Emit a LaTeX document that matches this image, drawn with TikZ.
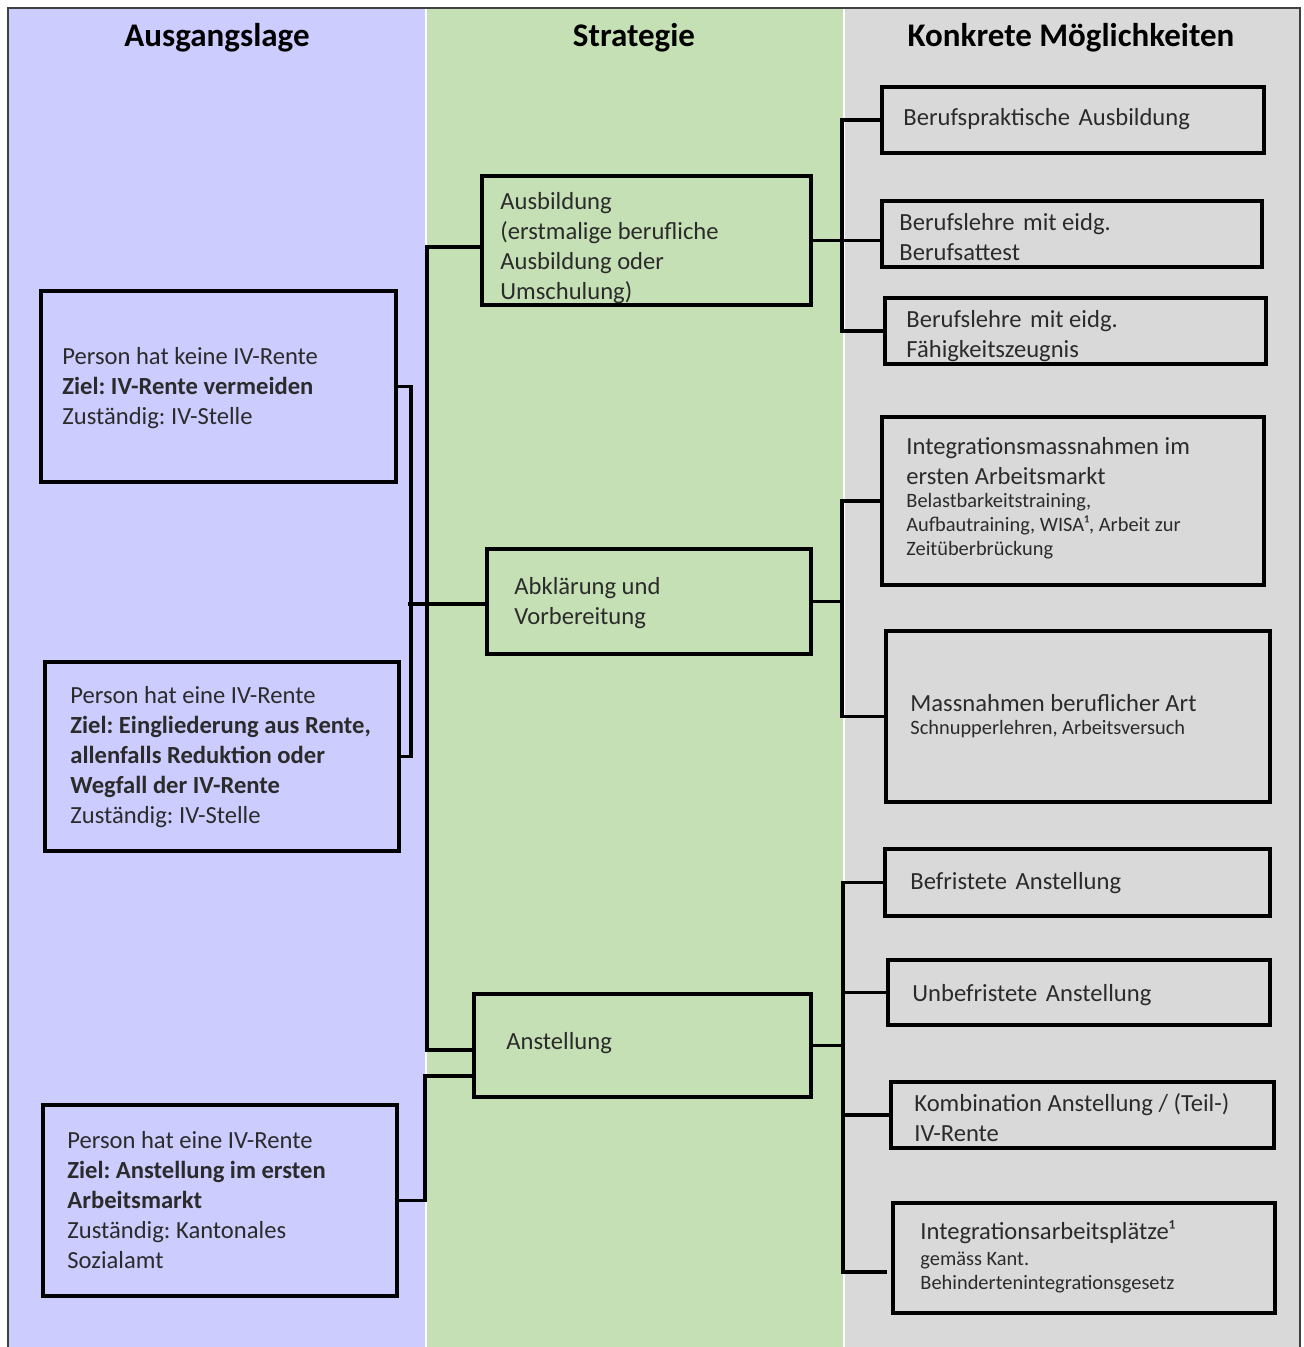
\documentclass[tikz,border=0pt]{standalone}
\usepackage{fontspec}
\setmainfont{Carlito}
\usetikzlibrary{calc}
\definecolor{cblue}{HTML}{CCCCFF}
\definecolor{cgreen}{HTML}{C5E0B4}
\definecolor{cgray}{HTML}{D9D9D9}
\definecolor{txtc}{HTML}{2B2B2B}
\definecolor{framec}{HTML}{404040}
\frenchspacing
\begin{document}
\begin{tikzpicture}[x=0.5pt,y=-0.5pt,
  boxn/.style={draw=black, line width=1.6pt, inner sep=0pt, outer sep=0pt},
  conn/.style={draw=black, line width=1.6pt},
  txt/.style={anchor=west, align=left, inner sep=0pt, text=txtc, font=\fontsize{12.3}{15}\selectfont},
  smalltxt/.style={anchor=west, align=left, inner sep=0pt, text=txtc, font=\fontsize{10.2}{12}\selectfont},
  head/.style={inner sep=0pt, text=black, font=\fontsize{16.5}{20}\selectfont\bfseries}
]
\useasboundingbox (0,0) rectangle (1304,1347);
\fill[white] (0,0) rectangle (1304,1347);
% columns
\fill[cblue] (9,9) rectangle (425,1347);
\fill[cgreen] (427,9) rectangle (843,1347);
\fill[cgray] (845,9) rectangle (1299,1347);
\draw[framec, line width=0.9pt] (8,1347) -- (8,8) -- (1300,8) -- (1300,1347);

% headers
\node[head] (h1) at (217,38) {Ausgangslage};
\node[head] (h2) at (634,38) {Strategie};
\node[head] (h3) at (1071,38) {Konkrete Möglichkeiten};

% left boxes
\node[boxn, minimum width=177.5pt, minimum height=95.5pt] (l1) at (218.5,386.5) {};
\node[boxn, minimum width=177pt, minimum height=94.5pt] (l2) at (222,756.5) {};
\node[boxn, minimum width=177pt, minimum height=95.5pt] (l3) at (220,1200.5) {};
\node[txt] (l1t) at (62,388) {Person hat keine IV-Rente\\\textbf{Ziel: IV-Rente vermeiden}\\Zuständig: IV-Stelle};
\node[txt] (l2t) at (70,757) {Person hat eine IV-Rente\\\textbf{Ziel: Eingliederung aus Rente,}\\\textbf{allenfalls Reduktion oder}\\\textbf{Wegfall der IV-Rente}\\Zuständig: IV-Stelle};
\node[txt] (l3t) at (67,1200) {Person hat eine IV-Rente\\\textbf{Ziel: Anstellung im ersten}\\\textbf{Arbeitsmarkt}\\Zuständig: Kantonales\\Sozialamt};

% middle boxes
\node[boxn, minimum width=164.5pt, minimum height=64.5pt] (m1) at (646.5,240.5) {};
\node[boxn, minimum width=162pt, minimum height=52.5pt] (m2) at (649,601.5) {};
\node[boxn, minimum width=168.5pt, minimum height=51.5pt] (m3) at (642.5,1045.5) {};
\node[txt] (m1t) at (500,248) {Ausbildung\\(erstmalige berufliche\\Ausbildung oder\\Umschulung)};
\node[txt] (m2t) at (514,603) {Abklärung und\\Vorbereitung};
\node[txt] (m3t) at (506,1043) {Anstellung};

% right boxes
\node[boxn, minimum width=191pt, minimum height=33pt] (r1) at (1073,120) {};
\node[boxn, minimum width=190pt, minimum height=33pt] (r2) at (1072,234) {};
\node[boxn, minimum width=190.5pt, minimum height=33pt] (r3) at (1075.5,331) {};
\node[boxn, minimum width=191pt, minimum height=84pt] (r4) at (1073,501) {};
\node[boxn, minimum width=192pt, minimum height=85.5pt] (r5) at (1078,716.5) {};
\node[boxn, minimum width=192.5pt, minimum height=33.5pt] (r6) at (1077.5,882.5) {};
\node[boxn, minimum width=191pt, minimum height=32.5pt] (r7) at (1079,992.5) {};
\node[boxn, minimum width=191.5pt, minimum height=33pt] (r8) at (1082.5,1115) {};
\node[boxn, minimum width=191pt, minimum height=55pt] (r9) at (1084,1258) {};

\node[txt] (r1t) at (903,119) {Berufspraktische\hspace{0.12em} Ausbildung};
\node[txt] (r2t) at (899,237) {Berufslehre\hspace{0.12em} mit eidg.\\Berufsattest};
\node[txt] (r3t) at (906,336) {Berufslehre\hspace{0.12em} mit eidg.\\Fähigkeitszeugnis};
\node[txt] (r4t) at (906,461) {Integrationsmassnahmen im\\ersten Arbeitsmarkt};
\node[smalltxt] (r4s) at (906,526) {Belastbarkeitstraining,\\Aufbautraining, WISA¹, Arbeit zur\\Zeitüberbrückung};
\node[txt] (r5t) at (910,703) {Massnahmen beruflicher Art};
\node[smalltxt] (r5s) at (910,729) {Schnupperlehren, Arbeitsversuch};
\node[txt] (r6t) at (910,883) {Befristete\hspace{0.12em} Anstellung};
\node[txt] (r7t) at (912,995) {Unbefristete\hspace{0.12em} Anstellung};
\node[txt] (r8t) at (914,1118) {Kombination Anstellung / (Teil-)\\IV-Rente};
\node[txt] (r9t) at (920,1232) {Integrationsarbeitsplätze¹};
\node[smalltxt] (r9s) at (920,1272) {gemäss Kant.\\Behindertenintegrationsgesetz};

% left connectors
\draw[conn] (l1.east) -- ++(15,0) |- (l2.east);
\coordinate (lj) at (408,604);
\draw[conn] (lj) -- (lj -| m2.west);
\draw[conn] ($(m1.west)+(0,6.5)$) -| (427,1050) -- (m3.west |- 0,1050);
\draw[conn] (l3.east) -| (425,1076) -- (m3.west |- 0,1076);

% right connectors (Ausbildung)
\coordinate (j1) at (842,240.5);
\draw[conn] (m1.east) -- (j1);
\draw[conn] (r1.west) -| (j1) |- (r3.west);
\draw[conn] (j1) -- (j1 -| r2.west);

% right connectors (Abklaerung)
\coordinate (j2) at (842,601.5);
\draw[conn] (m2.east) -- (j2);
\draw[conn] (r4.west) -| (j2) |- (r5.west);

% right connectors (Anstellung)
\coordinate (j3) at (843,1045.5);
\coordinate (r9end) at (887,1272);
\draw[conn] (m3.east) -- (j3);
\draw[conn] (r6.west) -| (843,1272) -- (r9end);
\draw[conn] (j3 |- r7.west) -- (r7.west);
\draw[conn] (j3 |- r8.west) -- (r8.west);
\end{tikzpicture}
\end{document}
